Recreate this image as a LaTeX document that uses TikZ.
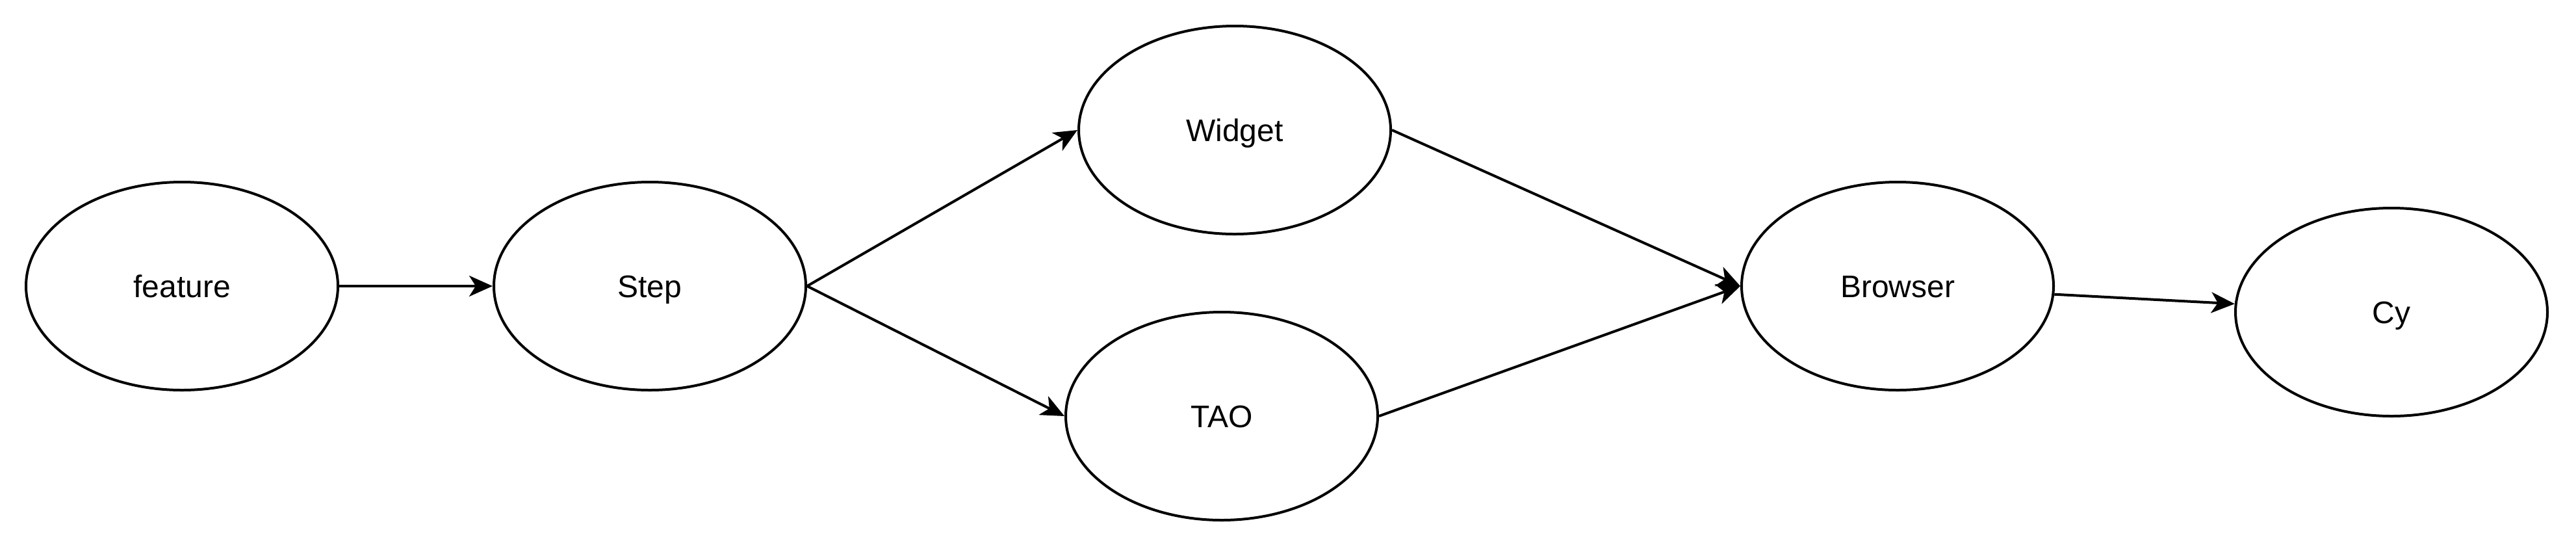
\documentclass[tikz,border=0pt]{standalone}
\usepackage{fontspec}
\setmainfont{Liberation Sans}
\usetikzlibrary{shapes.geometric,arrows.meta}
\begin{document}
\begin{tikzpicture}[x=1pt,y=-1pt,
  oval/.style={draw=black,line width=1pt,ellipse,minimum width=120pt,minimum height=80pt,inner sep=0pt,text height=8.7pt,text depth=0pt,font=\fontsize{12}{14}\selectfont},
  conn/.style={draw=black,line width=1pt,-{Stealth[length=9pt,width=8pt,inset=2.5pt]}}]
\useasboundingbox (0,0) rectangle (991,212);
\node[oval] (feature) at (70,110) {feature};
\node[oval] (step) at (250,110) {Step};
\node[oval] (widget) at (475,50) {Widget};
\node[oval] (tao) at (470,160) {TAO};
\node[oval] (browser) at (730,110) {Browser};
\node[oval] (cy) at (920,120) {Cy};
\draw[conn] (feature.east) -- (step.west);
\draw[conn] (step.east) -- (widget.west);
\draw[conn] (step.east) -- (tao.west);
\draw[conn] (widget.east) -- (browser.west);
\draw[conn] (tao.east) -- (browser.west);
\draw[conn] (browser) -- (cy);
\end{tikzpicture}
\end{document}
